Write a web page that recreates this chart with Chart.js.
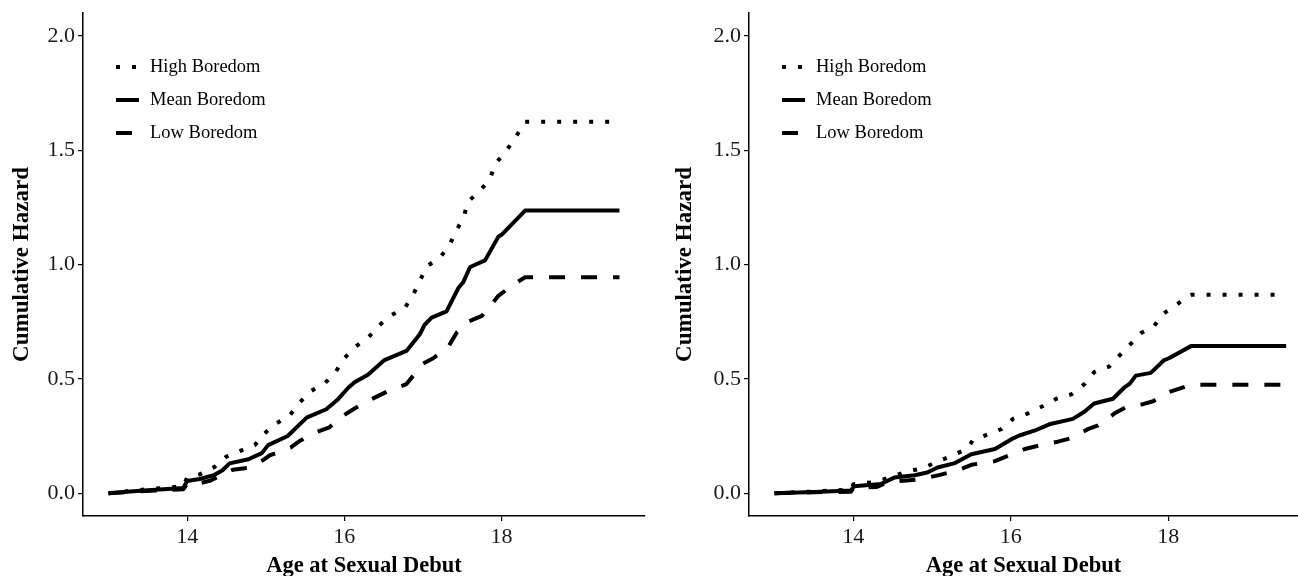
<!DOCTYPE html>
<html>
<head>
<meta charset="utf-8">
<script src="https://cdn.jsdelivr.net/npm/chart.js@4/dist/chart.umd.min.js"></script>
<style>
  html, body { margin: 0; padding: 0; background: #fff; overflow: hidden; }
  #wrap { position: relative; width: 1298px; height: 576px; }
  canvas { position: absolute; top: 0; }
  #left { left: 0; }
  #right { left: 649px; }
</style>
</head>
<body>
<div id="wrap">
  <canvas id="left" width="649" height="576"></canvas>
  <canvas id="right" width="649" height="576"></canvas>
</div>
<script>
// ---------- data ----------
const seriesLabels = ['High Boredom', 'Mean Boredom', 'Low Boredom'];
const xTickValues = [14, 16, 18];
const yTickValues = [0, 0.5, 1, 1.5, 2];
const yTickLabels = ['0.0', '0.5', '1.0', '1.5', '2.0'];
const xTitle = 'Age at Sexual Debut';
const yTitle = 'Cumulative Hazard';

// Left panel
const leftHighAge = [13.0,13.4,13.95,14.0,14.16,14.35,14.5,14.67,14.86,14.98,15.13,15.30,15.43,15.56,15.74,15.88,15.99,16.13,16.30,16.43,16.58,16.77,16.88,16.96,17.05,17.22,17.33,17.42,17.52,17.57,17.72,17.85,17.91,18.02,18.15,18.25,18.30,19.50];
const leftHigh    = [0.0,0.014,0.03,0.068,0.082,0.115,0.16,0.184,0.21,0.26,0.304,0.338,0.395,0.444,0.477,0.525,0.586,0.638,0.678,0.73,0.775,0.81,0.871,0.928,0.992,1.032,1.08,1.145,1.209,1.273,1.322,1.37,1.434,1.482,1.539,1.598,1.624,1.624];

const leftMeanAge = [13.0,13.4,13.95,14.0,14.16,14.35,14.45,14.54,14.78,14.95,15.03,15.28,15.52,15.77,15.92,16.05,16.13,16.30,16.51,16.79,16.96,17.02,17.11,17.30,17.45,17.51,17.60,17.79,17.96,18.0,18.30,19.50];
const leftMean    = [0.0,0.01,0.022,0.053,0.062,0.08,0.10,0.13,0.148,0.175,0.21,0.25,0.33,0.367,0.411,0.461,0.485,0.518,0.582,0.622,0.695,0.736,0.768,0.795,0.897,0.921,0.989,1.018,1.122,1.130,1.236,1.236];

const leftLowAge = [13.0,13.4,13.95,14.0,14.16,14.3,14.37,14.5,14.58,14.76,14.97,15.05,15.32,15.43,15.64,15.81,15.98,16.13,16.34,16.55,16.79,17.0,17.13,17.32,17.43,17.58,17.75,17.96,18.15,18.30,19.50];
const leftLow    = [0.0,0.008,0.017,0.04,0.043,0.055,0.067,0.09,0.102,0.11,0.145,0.165,0.2,0.228,0.266,0.288,0.338,0.37,0.41,0.445,0.477,0.566,0.59,0.638,0.703,0.751,0.775,0.863,0.912,0.944,0.944];

// Right panel
const rightHighAge = [13.0,13.5,13.97,14.0,14.26,14.46,14.69,14.88,15.08,15.26,15.45,15.52,15.88,16.03,16.22,16.41,16.58,16.77,16.94,17.06,17.25,17.38,17.52,17.65,17.82,17.93,18.09,18.26,18.30,19.50];
const rightHigh    = [0.0,0.007,0.016,0.039,0.048,0.068,0.096,0.108,0.14,0.164,0.195,0.232,0.28,0.325,0.349,0.381,0.413,0.432,0.478,0.529,0.553,0.601,0.651,0.699,0.73,0.783,0.82,0.863,0.868,0.868];

const rightMeanAge = [13.0,13.5,13.97,14.01,14.35,14.52,14.78,14.94,15.07,15.28,15.5,15.8,16.01,16.11,16.30,16.49,16.79,16.94,17.06,17.30,17.44,17.51,17.59,17.78,17.95,18.01,18.29,19.50];
const rightMean    = [0.0,0.005,0.011,0.03,0.04,0.068,0.078,0.09,0.112,0.13,0.17,0.193,0.236,0.252,0.273,0.301,0.325,0.357,0.392,0.413,0.461,0.478,0.514,0.526,0.582,0.59,0.643,0.643];

const rightLowAge = [13.0,13.5,13.97,14.0,14.3,14.46,14.68,14.85,15.1,15.33,15.5,15.80,15.99,16.18,16.37,16.60,16.77,16.98,17.11,17.32,17.49,17.68,17.81,18.0,18.29,19.50];
const rightLow    = [0.0,0.004,0.006,0.022,0.027,0.05,0.055,0.06,0.08,0.10,0.124,0.14,0.167,0.193,0.209,0.225,0.241,0.28,0.296,0.349,0.381,0.389,0.402,0.441,0.474,0.474];

// ---------- styling ----------
const SERIF = '"Liberation Serif", "Times New Roman", Times, serif';
const INK = '#000';
const LINE_W = 4;
const dashes = [[4, 12], [], [16, 16]];

function pairs(xs, ys) { return xs.map((x, i) => ({ x: x, y: ys[i] })); }

const legendPlugin = {
  id: 'insetLegend',
  afterDatasetsDraw(chart) {
    const ctx = chart.ctx;
    const a = chart.chartArea;
    ctx.save();
    chart.data.datasets.forEach((ds, i) => {
      const y = a.top + 54 + i * 33;
      const x0 = a.left + 33;
      ctx.beginPath();
      ctx.setLineDash(ds.borderDash || []);
      ctx.lineWidth = ds.borderWidth;
      ctx.strokeStyle = ds.borderColor;
      ctx.lineCap = 'butt';
      ctx.moveTo(x0, y);
      ctx.lineTo(x0 + 23, y);
      ctx.stroke();
      ctx.setLineDash([]);
      ctx.fillStyle = INK;
      ctx.font = '18.5px ' + SERIF;
      ctx.textAlign = 'left';
      ctx.textBaseline = 'middle';
      ctx.fillText(ds.label, a.left + 67, y);
    });
    ctx.restore();
  }
};

function makePanel(canvasId, xs, ys, cfg) {
  const datasets = seriesLabels.map((lab, i) => ({
    label: lab,
    data: pairs(xs[i], ys[i]),
    borderColor: INK,
    borderWidth: LINE_W,
    borderDash: dashes[i],
    borderCapStyle: 'butt',
    borderJoinStyle: 'round',
    pointRadius: 0,
    tension: 0,
    fill: false
  }));
  return new Chart(document.getElementById(canvasId), {
    type: 'line',
    data: { datasets },
    plugins: [legendPlugin],
    options: {
      responsive: false,
      animation: false,
      devicePixelRatio: 1,
      layout: { padding: { top: 13, right: cfg.padRight, left: 0, bottom: 0 } },
      plugins: { legend: { display: false }, tooltip: { enabled: false } },
      scales: {
        x: {
          type: 'linear',
          min: 12.675,
          max: cfg.xMax,
          afterBuildTicks: s => { s.ticks = xTickValues.map(v => ({ value: v })); },
          afterFit: s => { s.height = 60; s.paddingLeft = 0; s.paddingRight = 0; },
          grid: { display: true, drawOnChartArea: false, drawTicks: true, tickLength: 5, color: INK, lineWidth: 1.2 },
          border: { display: true, color: INK, width: 1.5 },
          ticks: {
            color: '#1a1a1a',
            font: { family: SERIF, size: 22 },
            padding: 3,
            maxRotation: 0,
            callback: v => String(v)
          },
          title: {
            display: true,
            text: xTitle,
            color: INK,
            font: { family: SERIF, size: 22.5, weight: 'bold' },
            padding: { top: 0, bottom: -4 }
          }
        },
        y: {
          type: 'linear',
          min: -0.1,
          max: 2.1,
          afterBuildTicks: s => { s.ticks = yTickValues.map(v => ({ value: v })); },
          afterFit: s => { s.width = cfg.yWidth; s.paddingTop = 0; s.paddingBottom = 0; },
          grid: { display: true, drawOnChartArea: false, drawTicks: true, tickLength: 5, color: INK, lineWidth: 1.2 },
          border: { display: true, color: INK, width: 1.5 },
          ticks: {
            color: '#1a1a1a',
            font: { family: SERIF, size: 22 },
            padding: 3,
            callback: (v) => yTickLabels[yTickValues.indexOf(v)]
          },
          title: {
            display: true,
            text: yTitle,
            color: INK,
            font: { family: SERIF, size: 23, weight: 'bold' },
            padding: { top: cfg.yTitlePad, bottom: 0 }
          }
        }
      }
    }
  });
}

makePanel('left',
  [leftHighAge, leftMeanAge, leftLowAge],
  [leftHigh, leftMean, leftLow],
  { yWidth: 83, padRight: 4, xMax: 19.825, yTitlePad: 8 });

makePanel('right',
  [rightHighAge, rightMeanAge, rightLowAge],
  [rightHigh, rightMean, rightLow],
  { yWidth: 100, padRight: 0, xMax: 19.65, yTitlePad: 22 });
</script>
</body>
</html>
